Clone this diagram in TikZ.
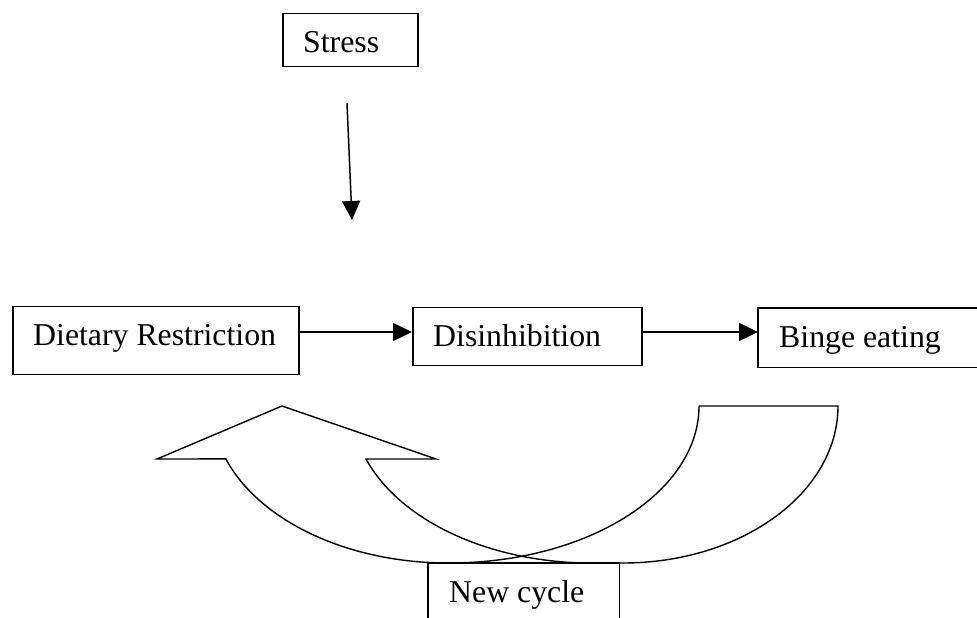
\documentclass[tikz,border=0pt]{standalone}
\usepackage{fontspec}
\setmainfont{Liberation Serif}
\usetikzlibrary{arrows.meta,calc}
\begin{document}
\begin{tikzpicture}[x=1pt,y=1pt,
  box/.style={draw=black,line width=1.5pt,rectangle,inner sep=0pt,anchor=north west},
  openbox/.style={rectangle,inner sep=0pt,anchor=north west},
  lbl/.style={inner sep=0pt,anchor=base west,font=\fontsize{31.8}{38}\selectfont},
  arr/.style={line width=1.5pt,-{Triangle[length=19pt,width=18pt]}},
  blockline/.style={line width=1.4pt,line join=miter}]
\useasboundingbox (0,0) rectangle (977,618);
% boxes
\node[box,minimum width=135pt,minimum height=53pt] (st) at (282,605) {};
\node[box,minimum width=286pt,minimum height=68pt] (dr) at (12,312) {};
\node[box,minimum width=229pt,minimum height=58pt] (di) at (412,311) {};
\node[openbox,minimum width=219pt,minimum height=59pt] (be) at (758,310) {};
\node[openbox,minimum width=191pt,minimum height=55pt] (nc) at (428,55) {};
\draw[line width=1.5pt] (be.north east) -- (be.north west) -- (be.south west) -- (be.south east);
\draw[line width=1.5pt] (nc.south west) -- (nc.north west) -- (nc.north east) -- (nc.south east);
% labels
\node[lbl] (tst) at (303,565) {Stress};
\node[lbl] (tdr) at (33,272) {Dietary Restriction};
\node[lbl] (tdi) at (433,271) {Disinhibition};
\node[lbl] (tbe) at (779,270) {Binge eating};
\node[lbl] (tnc) at (449,15) {New cycle};
% arrows
\coordinate (sa) at (347,515);
\coordinate (sb) at (352,398);
\draw[arr] (sa) -- (sb);
\draw[arr] (dr.east |- 0,286) -- (di.west |- 0,286);
\draw[arr] (di.east |- 0,286) -- (be.west |- 0,286);
% curved block arrow
\draw[blockline] (699,212) -- (838,212)
  arc[start angle=0,end angle=-90,x radius=215,y radius=157]
  -- (448,55)
  arc[start angle=-90,end angle=-160.3,x radius=236,y radius=157]
  -- (157,159) -- (282,212) -- (436,159) -- (366,159)
  arc[start angle=-160.3,end angle=-90,x radius=240,y radius=157];
\draw[blockline] (699,212) arc[start angle=0,end angle=-90,x radius=250,y radius=157];
\end{tikzpicture}
\end{document}
